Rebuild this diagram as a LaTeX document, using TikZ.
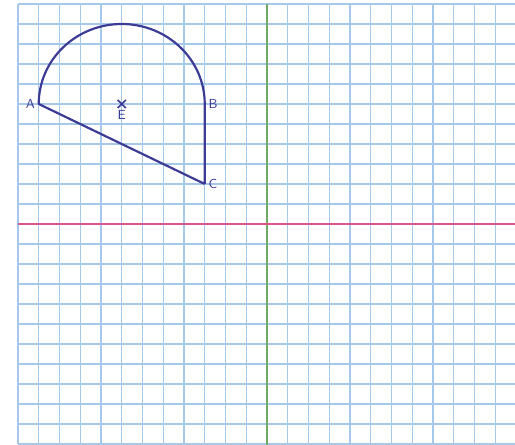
\documentclass[tikz,border=0pt]{standalone}
\usepackage{tikz}
\usetikzlibrary{positioning}
\definecolor{gridblue}{RGB}{165,200,235}
\definecolor{axisgreen}{RGB}{110,170,100}
\definecolor{axispink}{RGB}{220,85,145}
\definecolor{penblue}{RGB}{60,60,150}
\tikzset{
  ptlabel/.style={text=penblue,font=\sffamily\small,inner sep=1.5pt},
  pen/.style={draw=penblue,line width=1.5pt,line join=round}
}

\begin{document}
\begin{tikzpicture}[x=0.5cm,y=0.4819cm]
      \useasboundingbox (-12.867,-11.05) rectangle (11.952,11.2);
      \clip (-12.867,-11.05) rectangle (11.952,11.2);
      \draw [gridblue,line width=0.9pt,xstep=0.5cm,ystep=0.4819cm] (-12,-11) grid (12.5,11);
      \draw [axisgreen,line width=1.1pt] (0,-11.05) -- (0,11);
      \draw [axispink,line width=1.3pt] (-12,0) -- (11.952,0);

      \coordinate (A) at (-11,6);
      \coordinate (B) at (-3,6);
      \coordinate (C) at (-3,2);
      \coordinate (E) at (-7,6);

      \draw [pen] (C) -- (A) arc [start angle=180,end angle=0,radius=4] -- (C);
      \draw [penblue,line width=1.1pt] ([shift={(-0.2,-0.2)}]E) -- ([shift={(0.2,0.2)}]E)
        ([shift={(-0.2,0.2)}]E) -- ([shift={(0.2,-0.2)}]E);

      \node [ptlabel,left=1pt of A] (lA) {A};
      \node [ptlabel,right=1pt of B] (lB) {B};
      \node [ptlabel,right=1pt of C] (lC) {C};
      \node [ptlabel,below=3pt of E] (lE) {E};
    \end{tikzpicture}
\end{document}
